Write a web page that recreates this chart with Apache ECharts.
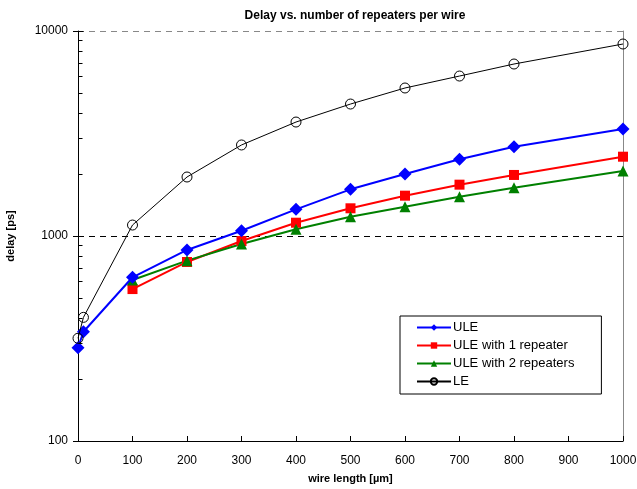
<!DOCTYPE html>
<html>
<head>
<meta charset="utf-8">
<script src="https://cdn.jsdelivr.net/npm/echarts@6/dist/echarts.min.js"></script>
<style>
  html, body { margin: 0; padding: 0; background: #fff; }
  #chart { width: 637px; height: 489px; }
</style>
</head>
<body>
<div id="chart"></div>
<script>
// Wire lengths in µm
const xULE = [0, 10, 100, 200, 300, 400, 500, 600, 700, 800, 1000];
const xRep = [100, 200, 300, 400, 500, 600, 700, 800, 1000];
const xLE = [0, 10, 100, 200, 300, 400, 500, 600, 700, 800, 1000];

// Delays in ps
const ule = [285, 341, 629, 855, 1061, 1349, 1689, 2006, 2366, 2727, 3325];
const ule1 = [551, 747, 945, 1161, 1365, 1573, 1780, 1985, 2437];
const ule2 = [610, 758, 914, 1078, 1242, 1390, 1555, 1720, 2075];
const le = [317, 401, 1131, 1940, 2780, 3597, 4403, 5272, 6030, 6902, 8641];

const seriesNames = ['ULE', 'ULE with 1 repeater', 'ULE with 2 repeaters', 'LE'];
const majorTickValues = [100, 1000, 10000];
const minorTickValues = [200, 300, 400, 500, 600, 700, 800, 900,
                         2000, 3000, 4000, 5000, 6000, 7000, 8000, 9000];

const pairs = (xs, ys) => xs.map((x, i) => [x, ys[i]]);
const FONT = 'Liberation Sans, Arial, sans-serif';
const plain = v => String(Math.round(v));

const chart = echarts.init(document.getElementById('chart'), null, { renderer: 'canvas' });

chart.setOption({
  animation: false,
  backgroundColor: '#fff',
  title: {
    text: 'Delay vs. number of repeaters per wire',
    left: 350, top: 5, textAlign: 'center',
    textStyle: { fontFamily: FONT, fontSize: 12, fontWeight: 'bold', color: '#000' }
  },
  grid: { left: 78, right: 14, top: 31, bottom: 48, outerBoundsMode: 'none', containLabel: false },
  legend: {
    orient: 'vertical',
    left: 400, top: 316,
    width: 190,
    padding: [5, 27, 6, 16],
    itemGap: 5,
    itemWidth: 34, itemHeight: 8,
    borderColor: '#000', borderWidth: 1,
    backgroundColor: '#fff',
    textStyle: { fontFamily: FONT, fontSize: 13, color: '#000', padding: [0, 0, 0, -3] },
    data: seriesNames
  },
  xAxis: {
    type: 'value', min: 0, max: 1000, interval: 100,
    name: 'wire length [µm]', nameLocation: 'middle', nameGap: 32,
    nameMoveOverlap: false,
    nameTextStyle: { fontFamily: FONT, fontSize: 11, fontWeight: 'bold', color: '#000' },
    axisLine: { lineStyle: { color: '#000', width: 1 } },
    axisTick: { inside: true, length: 5, lineStyle: { color: '#000' } },
    axisLabel: { fontFamily: FONT, fontSize: 12, color: '#000', margin: 14, formatter: plain },
    splitLine: { show: false }
  },
  yAxis: [{
    type: 'log', logBase: 10, min: 100, max: 10000,
    name: 'delay [ps]', nameLocation: 'middle', nameGap: 62, nameRotate: 90,
    nameMoveOverlap: false,
    nameTextStyle: { fontFamily: FONT, fontSize: 11, fontWeight: 'bold', color: '#000' },
    axisLine: { show: true, lineStyle: { color: '#000', width: 1 } },
    axisTick: { show: true, inside: false, length: 5, lineStyle: { color: '#000' } },
    axisLabel: { fontFamily: FONT, fontSize: 12, color: '#000', margin: 10, formatter: plain },
    splitLine: { show: true, lineStyle: { color: ['#000', '#000', '#888'], type: [6, 5], width: 1 } }
  }, {
    type: 'log', logBase: 10, min: 100, max: 10000, position: 'right',
    axisLine: { show: true, lineStyle: { color: '#888', width: 1 } },
    axisTick: { show: false }, axisLabel: { show: false }, splitLine: { show: false }
  }],
  series: [
    {
      name: 'ULE', type: 'line', data: pairs(xULE, ule),
      symbol: 'diamond', symbolSize: 13,
      lineStyle: { color: '#0000ff', width: 2 },
      itemStyle: { color: '#0000ff' }, z: 3
    },
    {
      name: 'ULE with 1 repeater', type: 'line', data: pairs(xRep, ule1),
      symbol: 'rect', symbolSize: 10,
      lineStyle: { color: '#ff0000', width: 2 },
      itemStyle: { color: '#ff0000' }, z: 2
    },
    {
      name: 'ULE with 2 repeaters', type: 'line', data: pairs(xRep, ule2),
      symbol: 'triangle', symbolSize: 11,
      lineStyle: { color: '#008000', width: 2 },
      itemStyle: { color: '#008000' }, z: 2
    },
    {
      name: 'LE', type: 'line', data: pairs(xLE, le),
      symbol: 'circle', symbolSize: 10, showSymbol: true,
      lineStyle: { color: '#000', width: 1 },
      itemStyle: { color: 'rgba(255,255,255,0)', borderColor: '#000', borderWidth: 1 }, z: 4
    }
  ]
});

// Minor ticks (2..9 of each decade) point into the plot; major ticks cross the axis
const x0 = Math.round(chart.convertToPixel({ xAxisIndex: 0 }, 0)) + 0.5;
const tickSegment = (v, len) => {
  const y = Math.round(chart.convertToPixel({ yAxisIndex: 0 }, v)) + 0.5;
  return {
    type: 'line', silent: true, z: 10,
    shape: { x1: x0, y1: y, x2: x0 + len, y2: y },
    style: { stroke: '#000', lineWidth: 1 }
  };
};
chart.setOption({
  graphic: minorTickValues.map(v => tickSegment(v, 4))
    .concat(majorTickValues.map(v => tickSegment(v, 5)))
});
</script>
</body>
</html>
